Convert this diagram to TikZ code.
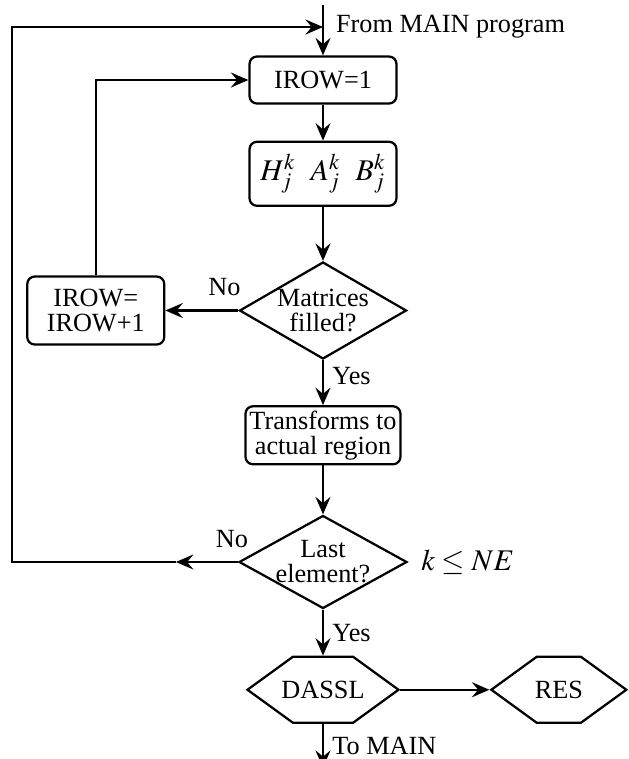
\documentclass[tikz,border=0pt]{standalone}
\usepackage{mathptmx}
\usepackage{fontspec}
\setmainfont{Liberation Serif}
\usepackage{tikz}
\usetikzlibrary{positioning, shapes.geometric, shapes.symbols, arrows.meta}

\begin{document}
\begin{tikzpicture}[auto, line width=0.9pt,
  font=\fontsize{10.5}{10}\selectfont,
  Arr/.style={-{Stealth[length=7pt, width=6pt, inset=2.5pt]}},
  box/.style={draw, rounded corners=3pt, align=center, inner sep=1pt},
  decision/.style={draw, diamond, inner sep=0pt},
  hexa/.style={draw, signal, signal to=west and east,
    signal pointer angle=72, inner sep=0pt}]
  \useasboundingbox (0,0) rectangle (251.6pt,-303.6pt);
  \node[box, minimum width=58.8pt, minimum height=18.8pt] (row) at (129.2pt,-32pt) {IROW=1};
  \node[box, below=14.4pt of row, minimum width=58.8pt, minimum height=25.6pt] (hmat) {\large $H_j^k\enspace A_j^k\enspace B_j^k$};
  \node[decision, below=21.6pt of hmat, minimum width=66.8pt, minimum height=38.8pt,
    label={[align=center]center:Matrices\\filled?}] (fill) {};
  \node[box, left=29.2pt of fill, minimum width=54.8pt, minimum height=27.2pt] (inc) {IROW=\\IROW+1};
  \node[box, below=18pt of fill, minimum width=62pt, minimum height=23.2pt, inner sep=0pt] (trans) {Transforms to\\actual region};
  \node[decision, below=19.6pt of trans, minimum width=67.2pt, minimum height=37.2pt,
    label={[align=center]center:Last\\element?}] (last) {};
  \node[right=4.8pt of last, inner sep=0pt] (kne) {\large $k \leq NE$};
  \node[hexa, below=18.4pt of last, minimum width=60.4pt, minimum height=26.4pt,
    label=center:DASSL] (dassl) {};
  \node[hexa, right=35.6pt of dassl, minimum width=54pt, minimum height=26.4pt,
    label=center:RES] (res) {};
  \node[above=2pt of fill.west, xshift=-5.6pt] (nofill) {No};
  \node[above=2pt of last.west, xshift=-2.4pt] (nolast) {No};

  \coordinate (top) at (129.2pt,-2pt);
  \coordinate (entry) at (129.2pt,-10.8pt);
  \coordinate (edge) at (4.8pt,0pt);
  \coordinate[left=24.8pt of last.west] (back);
  \coordinate[below=17.6pt of dassl.south] (out);
  \node[right=4.8pt of entry, inner sep=0pt] (frm) {From MAIN program};

  \draw[Arr] (top) -- (row);
  \draw[Arr] (row) -- (hmat);
  \draw[Arr] (hmat) -- (fill);
  \draw[Arr] (fill) -- (inc);
  \draw[Arr] (inc) |- (row);
  \draw[Arr] (fill) -- node[right, pos=0.35] {Yes} (trans);
  \draw[Arr] (trans) -- (last);
  \draw[Arr] (last) -- (back);
  \draw[Arr] (back) -- (back -| edge) |- (entry);
  \draw[Arr] (last) -- node[right] {Yes} (dassl);
  \draw[Arr] (dassl) -- (res);
  \draw[Arr] (dassl) -- node[right, pos=0.5] {To MAIN} (out);
\end{tikzpicture}
\end{document}
